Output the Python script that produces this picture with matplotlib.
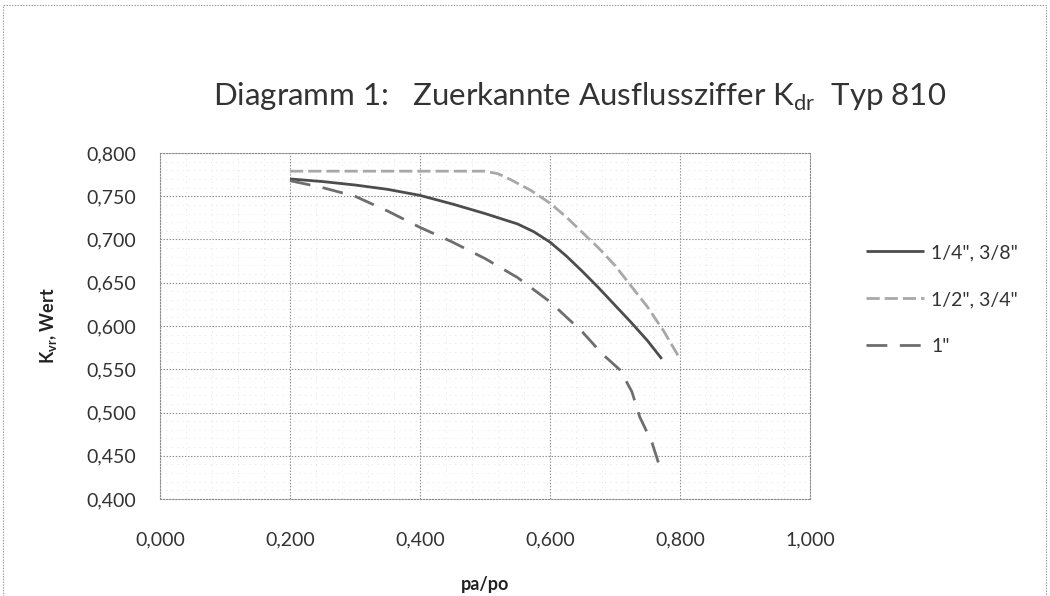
import matplotlib
matplotlib.use("Agg")
import matplotlib.pyplot as plt
from matplotlib.patches import Rectangle
from matplotlib.ticker import MultipleLocator, FuncFormatter

# pa/po values and discharge coefficients for each valve size
x_small = [0.20, 0.25, 0.30, 0.35, 0.40, 0.45, 0.50, 0.55, 0.575, 0.60, 0.625, 0.65,
           0.675, 0.70, 0.725, 0.75, 0.772]
k_small = [0.770, 0.767, 0.763, 0.758, 0.751, 0.741, 0.730, 0.718, 0.709, 0.697, 0.681, 0.663,
           0.644, 0.624, 0.604, 0.583, 0.562]

x_mid = [0.20, 0.30, 0.40, 0.50, 0.52, 0.54, 0.57, 0.60, 0.625, 0.65, 0.675, 0.70,
         0.725, 0.75, 0.775, 0.80]
k_mid = [0.779, 0.779, 0.779, 0.779, 0.776, 0.769, 0.757, 0.742, 0.726, 0.708, 0.690, 0.670,
         0.646, 0.622, 0.594, 0.562]

x_large = [0.20, 0.25, 0.30, 0.35, 0.40, 0.45, 0.50, 0.55, 0.60, 0.65, 0.68, 0.708,
           0.726, 0.738, 0.757, 0.771]
k_large = [0.768, 0.760, 0.750, 0.733, 0.714, 0.697, 0.678, 0.656, 0.628, 0.593, 0.568, 0.549,
           0.524, 0.495, 0.465, 0.432]

series_labels = ['1/4", 3/8"', '1/2", 3/4"', '1"']
title_text = r"Diagramm 1:   Zuerkannte Ausflussziffer K$_{\mathregular{dr}}$  Typ 810"
xlabel_text = "pa/po"
ylabel_text = r"K$_{\mathregular{vr}}$, Wert"

plt.rcParams['font.family'] = ['Lato', 'DejaVu Sans']
plt.rcParams['lines.scale_dashes'] = False

fig = plt.figure(figsize=(10.5, 5.96), dpi=100)
fig.patch.set_facecolor('white')

# dotted frame around the whole chart area
fig.patches.append(Rectangle((3 / 1050, -0.02), 1043 / 1050, 1.0 - 5 / 596 + 0.02,
                             transform=fig.transFigure, fill=False,
                             edgecolor='#9a9a9a', linestyle=(0, (1, 1)), linewidth=0.8))

ax = fig.add_axes([160 / 1050, 97 / 596, 650 / 1050, 346 / 596])

ax.plot(x_small, k_small, color='#4d4d4d', linewidth=2.0, solid_capstyle='butt',
        solid_joinstyle='round', label=series_labels[0], zorder=3)
ax.plot(x_mid, k_mid, color='#a8a8a8', linewidth=2.0, dashes=(9.5, 3.6),
        label=series_labels[1], zorder=3)
ax.plot(x_large, k_large, color='#6e6e6e', linewidth=2.0, dashes=(15, 9),
        label=series_labels[2], zorder=3)

ax.set_xlim(0.0, 1.0)
ax.set_ylim(0.4, 0.8)
ax.xaxis.set_major_locator(MultipleLocator(0.2))
ax.yaxis.set_major_locator(MultipleLocator(0.05))
ax.xaxis.set_minor_locator(MultipleLocator(0.04))
ax.yaxis.set_minor_locator(MultipleLocator(0.01))

fmt = FuncFormatter(lambda v, p: f"{v:.3f}".replace('.', ','))
ax.xaxis.set_major_formatter(fmt)
ax.yaxis.set_major_formatter(fmt)

ax.grid(which='major', color='#8c8c8c', linestyle=(0, (1, 1.2)), linewidth=0.8)
ax.grid(which='minor', color='#e6e6e6', linestyle=(0, (1, 3)), linewidth=0.6)
ax.set_axisbelow(True)

for side in ['top', 'right', 'bottom', 'left']:
    ax.spines[side].set_color('#8c8c8c')
    ax.spines[side].set_linestyle((0, (1, 1.2)))
    ax.spines[side].set_linewidth(0.8)

ax.tick_params(which='both', length=0)
ax.tick_params(axis='x', pad=23, labelsize=14, labelcolor='#333333')
ax.tick_params(axis='y', pad=17, labelsize=14, labelcolor='#333333')

ax.set_xlabel(xlabel_text, fontsize=13, fontweight='bold', labelpad=20, color='#222222')
ax.set_ylabel(ylabel_text, fontsize=13, fontweight='bold', labelpad=20, color='#222222')

fig.text(580 / 1050, 1 - 97 / 596, title_text, ha='center', va='center',
         fontsize=22.5, color='#333333')

leg = fig.legend(loc='upper left', bbox_to_anchor=(866 / 1050, 1 - 244 / 596),
                 frameon=False, fontsize=14, handlelength=3.0, handletextpad=0.35,
                 labelspacing=1.55, borderpad=0, borderaxespad=0)
for t in leg.get_texts():
    t.set_color('#333333')

fig.savefig('out.png', dpi=100, facecolor='white')
